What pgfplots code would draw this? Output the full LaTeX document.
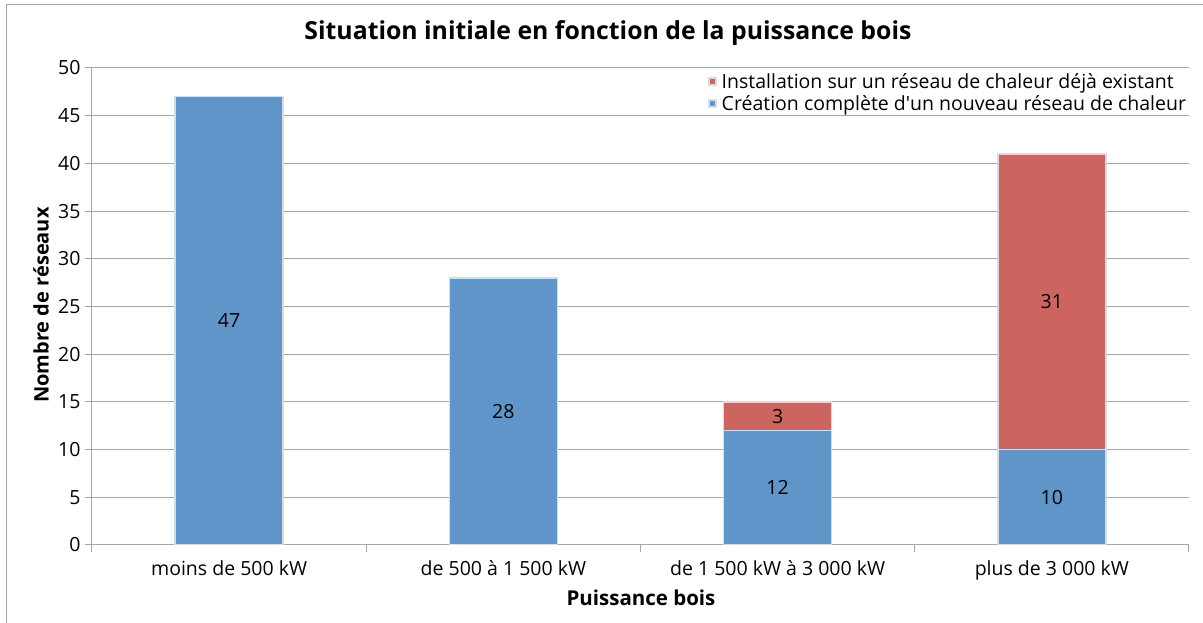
\documentclass[border=0pt]{standalone}
\usepackage{fontspec}
\setmainfont{Open Sans}
\usepackage{pgfplots}
\pgfplotsset{compat=1.18}

\definecolor{barblue}{RGB}{96,149,201}
\definecolor{barred}{RGB}{204,101,96}
\definecolor{bordergray}{RGB}{215,220,226}
\definecolor{gridgray}{RGB}{166,166,166}

\begin{document}
\begin{tikzpicture}[x=1pt,y=1pt]
\useasboundingbox (-92,-78) rectangle (1111,545);
\draw[gridgray,line width=1pt] (-85,-78) -- (-85,540) -- (1111,540);

\begin{axis}[
  at={(0,0)}, anchor=south west,
  scale only axis,
  width=1097pt, height=477pt,
  ybar stacked,
  bar width=0.394,
  xmin=-0.5, xmax=3.5,
  ymin=0, ymax=50,
  ytick={0,5,...,50},
  xtick={0,1,2,3},
  xticklabels={moins de 500 kW, de 500 à 1 500 kW, de 1 500 kW à 3 000 kW, plus de 3 000 kW},
  minor xtick={-0.5,0.5,1.5,2.5,3.5},
  major x tick style={draw=none},
  minor tick length=7pt,
  major tick length=7pt,
  tick align=outside,
  tick pos=left,
  axis x line*=bottom,
  axis y line*=left,
  axis line style={gridgray,line width=1pt},
  every tick/.style={gridgray,line width=1pt},
  ymajorgrids,
  grid style={gridgray,line width=1pt},
  /pgf/number format/assume math mode=true,
  ticklabel style={font=\fontsize{19.5}{22}\selectfont},
  yticklabel style={xshift=-1pt},
  xticklabel style={yshift=-5pt},
  reverse legend,
  legend style={at={(1.0,1.0)}, anchor=north east, yshift=-5pt, xshift=-2pt,
    draw=none, fill=none, inner sep=0pt, outer sep=0pt,
    font=\fontsize{19.5}{22}\selectfont, row sep=0pt,
    nodes={inner sep=1pt, text height=15pt, text depth=5pt},
    /tikz/every odd column/.append style={column sep=4pt}},
  legend cell align=left,
  legend image code/.code={\fill[#1] (0pt,-1pt) rectangle (7pt,6pt);},
]
\addplot+[fill=barblue, draw=bordergray, line width=1.5pt]
  coordinates {(0,47) (1,28) (2,12) (3,10)};
\addplot+[fill=barred, draw=bordergray, line width=1.5pt]
  coordinates {(0,0) (1,0) (2,3) (3,31)};
\legend{Création complète d\textquotesingle un nouveau réseau de chaleur, Installation sur un réseau de chaleur déjà existant}
\end{axis}

\begin{axis}[
  at={(0,0)}, anchor=south west,
  scale only axis,
  width=1097pt, height=477pt,
  xmin=-0.5, xmax=3.5,
  ymin=0, ymax=50,
  hide axis,
]
\addplot[draw=none, nodes near coords, point meta=explicit symbolic,
  every node near coord/.style={anchor=center, font=\fontsize{19.5}{22}\selectfont}]
  coordinates {(0,23.5)[47] (1,14)[28] (2,6)[12] (2,13.5)[3] (3,5)[10] (3,25.5)[31]};
\end{axis}

\node[font=\bfseries\fontsize{24.8}{28}\selectfont] at (516,512) {Situation initiale en fonction de la puissance bois};
\node[font=\bfseries\fontsize{20}{22}\selectfont, rotate=90] at (-51,240) {Nombre de réseaux};
\node[font=\bfseries\fontsize{20.5}{22}\selectfont] at (549,-53) {Puissance bois};
\end{tikzpicture}
\end{document}
